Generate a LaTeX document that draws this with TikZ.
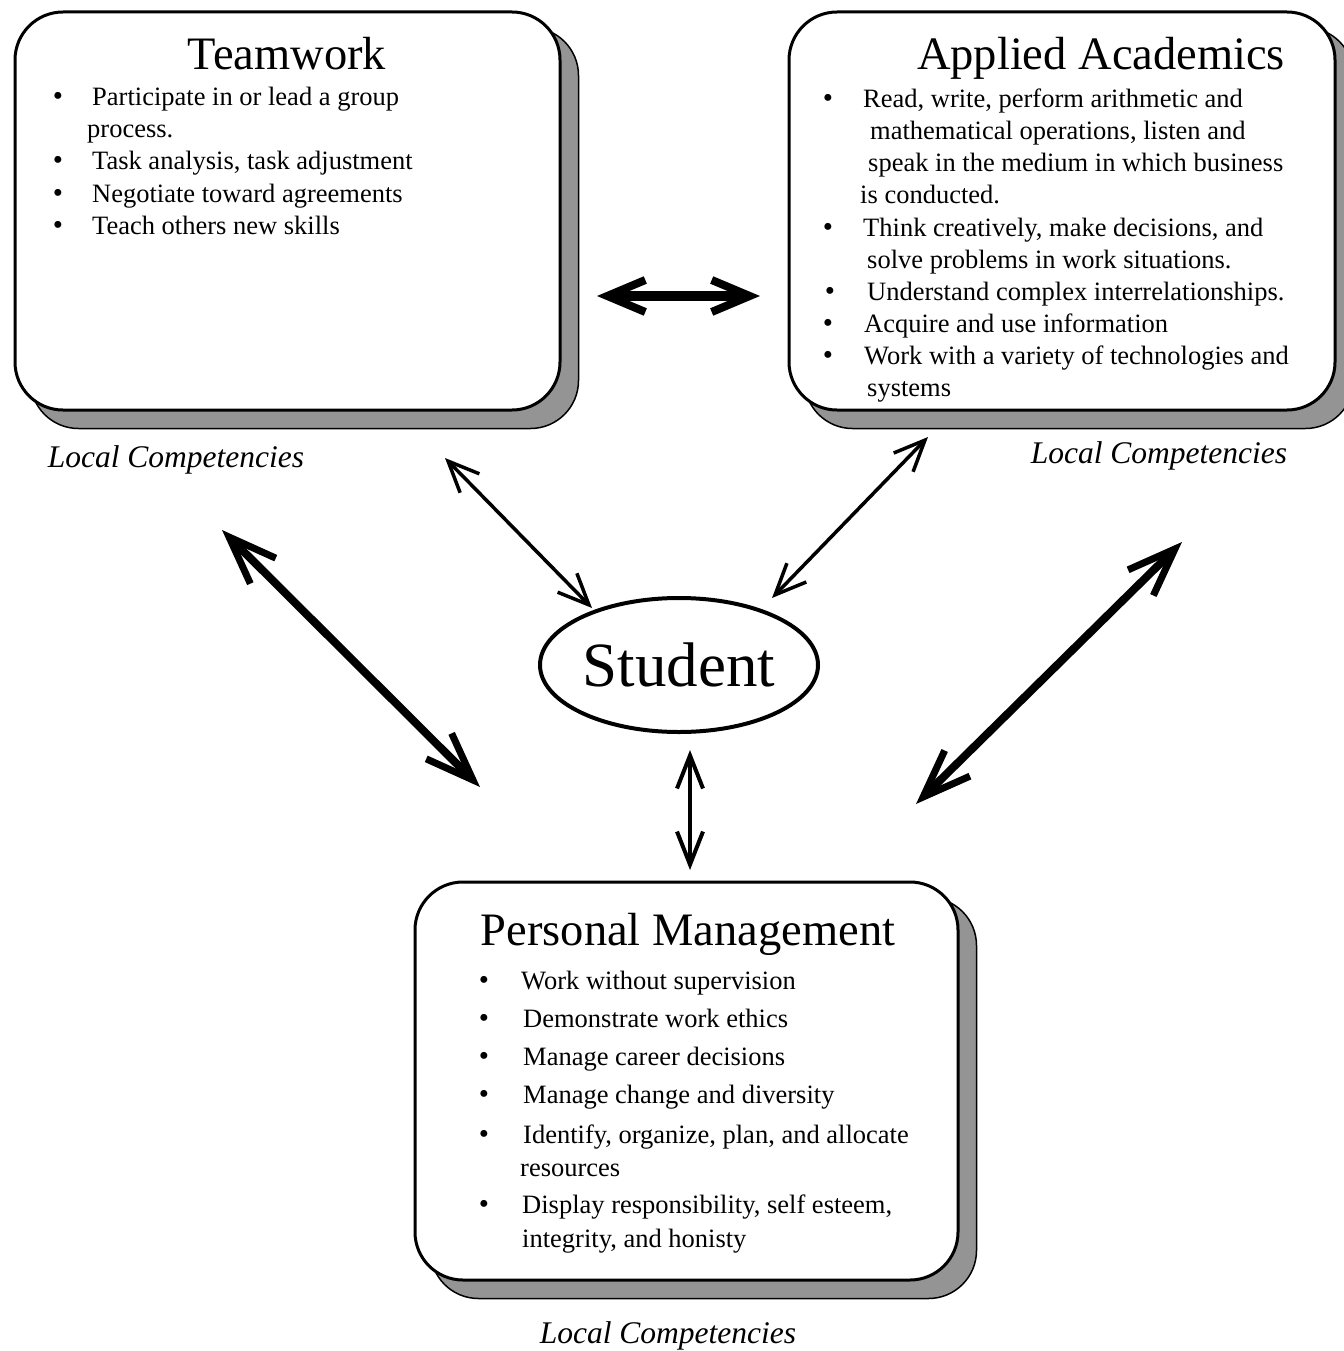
\documentclass[tikz,border=0pt]{standalone}
\usepackage{fontspec}
\setmainfont{Liberation Serif}
\usetikzlibrary{arrows.meta,patterns,shapes.geometric,backgrounds}

\begin{document}
\begin{tikzpicture}[x=1pt,y=-1pt,
  panel/.style={draw=black, line width=3pt, fill=white, rounded corners=48pt, inner sep=0pt},
  panelshadow/.style={draw=black, line width=1.5pt, fill=black!42, rounded corners=48pt},
  heading/.style={font=\fontsize{46.5}{50}\selectfont, anchor=base, inner sep=0pt},
  item/.style={font=\fontsize{26.5}{30}\selectfont, anchor=base west, inner sep=0pt},
  bul/.style={font=\fontsize{29}{30}\selectfont, anchor=base, inner sep=0pt},
  local/.style={font=\fontsize{31.5}{34}\selectfont\itshape, anchor=base, inner sep=0pt},
  link/.style={line width=3.5pt, {Straight Barb[length=31pt,width=27pt,line width=3.5pt]}-{Straight Barb[length=31pt,width=27pt,line width=3.5pt]}},
  vlink/.style={line width=4.5pt, {Straight Barb[length=33pt,width=26pt,line width=4pt]}-{Straight Barb[length=33pt,width=26pt,line width=4pt]}},
  hlink/.style={line width=10pt, {Straight Barb[length=38pt,width=32pt,line width=8pt]}-{Straight Barb[length=38pt,width=32pt,line width=8pt]}},
  biglink/.style={line width=8pt, {Straight Barb[length=48pt,width=36pt,line width=7pt]}-{Straight Barb[length=48pt,width=36pt,line width=7pt]}}
]
\useasboundingbox (0,0) rectangle (1343,1351);

% ---- three competency panels ----
\node[panel, minimum width=545pt, minimum height=398pt] (tw) at (287.5,211) {};
\node[panel, minimum width=546pt, minimum height=398pt] (aa) at (1062,211) {};
\node[panel, minimum width=543pt, minimum height=398pt] (pm) at (686.5,1081) {};

% drop shadows behind the panels
\begin{scope}[on background layer]
\foreach \b in {tw,aa,pm}{
  \path[panelshadow] ([shift={(17,17)}]\b.north west) rectangle ([shift={(17,17)}]\b.south east);
}
\end{scope}

% ---- Teamwork ----
\node[heading] (twT) at (287,70) {Teamwork};
\node[bul] (twb1) at (58,106) {•};
\node[item] (tw1) at (92,106) {Participate in or lead a group};
\node[item] (tw1b) at (87,138) {process.};
\node[bul] (twb2) at (58,170) {•};
\node[item] (tw2) at (92,170) {Task analysis, task adjustment};
\node[bul] (twb3) at (58,202) {•};
\node[item] (tw3) at (92,202) {Negotiate toward agreements};
\node[bul] (twb4) at (58,234) {•};
\node[item] (tw4) at (92,234) {Teach others new skills};

% ---- Applied Academics ----
\node[heading] (aaT) at (1101,70) {Applied Academics};
\node[bul] (aab1) at (828,108) {•};
\node[item] (aa1) at (863,108) {Read, write, perform arithmetic and};
\node[item] (aa1b) at (870,140) {mathematical operations, listen and};
\node[item] (aa1c) at (868,172) {speak in the medium in which business};
\node[item] (aa1d) at (860,204) {is conducted.};
\node[bul] (aab2) at (828,236) {•};
\node[item] (aa2) at (863,236) {Think creatively, make decisions, and};
\node[item] (aa2b) at (867,268) {solve problems in work situations.};
\node[bul] (aab3) at (830,300) {•};
\node[item] (aa3) at (867,300) {Understand complex interrelationships.};
\node[bul] (aab4) at (828,332) {•};
\node[item] (aa4) at (864,332) {Acquire and use information};
\node[bul] (aab5) at (828,364) {•};
\node[item] (aa5) at (864,364) {Work with a variety of technologies and};
\node[item] (aa5b) at (867,396) {systems};

% ---- Personal Management ----
\node[heading] (pmT) at (688,945) {Personal Management};
\node[bul] (pmb1) at (484,989) {•};
\node[item] (pm1) at (521,989) {Work without supervision};
\node[bul] (pmb2) at (484,1027) {•};
\node[item] (pm2) at (523,1027) {Demonstrate work ethics};
\node[bul] (pmb3) at (484,1065) {•};
\node[item] (pm3) at (523,1065) {Manage career decisions};
\node[bul] (pmb4) at (484,1103) {•};
\node[item] (pm4) at (523,1103) {Manage change and diversity};
\node[bul] (pmb5) at (484,1143) {•};
\node[item] (pm5) at (523,1143) {Identify, organize, plan, and allocate};
\node[item] (pm5b) at (520,1176) {resources};
\node[bul] (pmb6) at (484,1213) {•};
\node[item] (pm6) at (522,1213) {Display responsibility, self esteem,};
\node[item] (pm6b) at (522,1247) {integrity, and honisty};

% ---- captions ----
\node[local] (lc1) at (176,467) {Local Competencies};
\node[local] (lc2) at (1159,463) {Local Competencies};
\node[local] (lc3) at (668,1343) {Local Competencies};

% ---- the student ----
\node[ellipse, draw, line width=4pt, minimum width=278pt, minimum height=134pt, inner sep=0pt,
      font=\fontsize{63}{66}\selectfont] (st) at (679,665) {Student};

% ---- connector end points ----
\coordinate (hA) at (597,296);
\coordinate (hB) at (760,296);
\coordinate (t1) at (445,458);
\coordinate (s1) at (592,608);
\coordinate (t2) at (928,437);
\coordinate (s2) at (772,598);
\coordinate (l1) at (222,530);
\coordinate (l2) at (480,787);
\coordinate (r1) at (1182,542);
\coordinate (r2) at (916,804);
\coordinate (v1) at (690,750);
\coordinate (v2) at (690,870);

\draw[hlink] (hA) -- (hB);
\draw[link] (t1) -- (s1);
\draw[link] (t2) -- (s2);
\draw[biglink] (l1) -- (l2);
\draw[biglink] (r1) -- (r2);
\draw[vlink] (v1) -- (v2);
\end{tikzpicture}
\end{document}
